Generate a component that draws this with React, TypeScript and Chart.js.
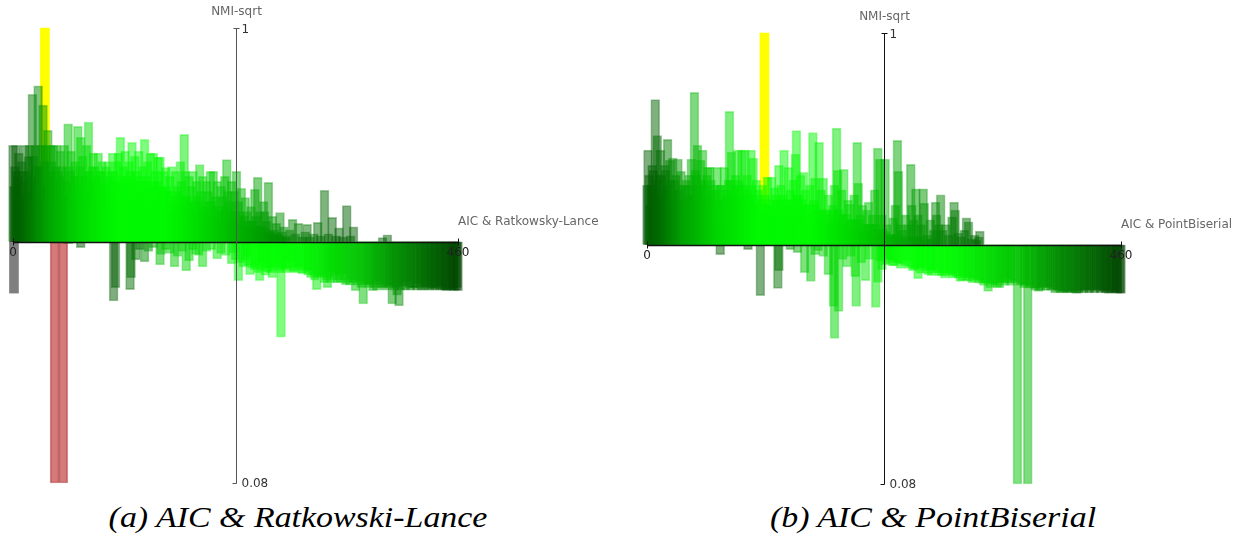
import React, { useEffect, useRef } from "react";
import { Chart, registerables } from "chart.js";

Chart.register(...registerables);

// Rank axis (AIC order) and NMI-sqrt axis extents.
const rankTicks = [0, 460];
const nmiTicks = [1, 0.08];
// The rank axis crosses the NMI-sqrt axis here; the NMI axis sits at this rank.
const axisCrossNmi = 0.568;
const nmiAxisRank = 230;

// (a) AIC & Ratkowsky-Lance: [rank, NMI-sqrt]
const rlAbove: [number, number][] = [
  [0, 0.763], [1, 0.68], [3, 0.763], [4, 0.71], [6, 0.747], [7, 0.649], [9, 0.73], [10, 0.69], [12, 0.763], [13, 0.629],
  [15, 0.71], [17, 0.763], [18, 0.67], [20, 0.866], [21, 0.741], [23, 0.763], [24, 0.69], [26, 0.883], [27, 0.72], [29, 0.763],
  [30, 0.659], [31, 0.844], [34, 0.763], [36, 0.793], [37, 0.7], [39, 0.763], [40, 0.73], [42, 0.763], [43, 0.67], [45, 0.763],
  [47, 0.71], [49, 0.751], [51, 0.69], [53, 0.763], [54, 0.649], [57, 0.806], [58, 0.72], [60, 0.751], [62, 0.68], [64, 0.73],
  [67, 0.801], [68, 0.7], [70, 0.779], [72, 0.741], [74, 0.67], [76, 0.763], [78, 0.81], [79, 0.71], [81, 0.69], [83, 0.747],
  [85, 0.72], [87, 0.659], [88, 0.747], [90, 0.71], [92, 0.73], [94, 0.68], [96, 0.72], [98, 0.73], [99, 0.67], [101, 0.71],
  [103, 0.747], [105, 0.69], [107, 0.73], [109, 0.747], [111, 0.779], [112, 0.68], [114, 0.72], [116, 0.751], [118, 0.7], [120, 0.73],
  [123, 0.769], [124, 0.69], [126, 0.741], [128, 0.71], [130, 0.751], [132, 0.67], [134, 0.72], [136, 0.775], [137, 0.69], [139, 0.73],
  [142, 0.747], [143, 0.659], [145, 0.747], [147, 0.71], [149, 0.69], [150, 0.739], [152, 0.739], [154, 0.68], [156, 0.71], [158, 0.718],
  [160, 0.67], [162, 0.7], [164, 0.72], [166, 0.649], [168, 0.71], [170, 0.68], [173, 0.73], [174, 0.69], [177, 0.785], [178, 0.71],
  [180, 0.659], [182, 0.7], [184, 0.68], [186, 0.71], [188, 0.649], [190, 0.69], [193, 0.724], [194, 0.67], [196, 0.7], [198, 0.639],
  [200, 0.69], [202, 0.67], [204, 0.71], [205, 0.649], [207, 0.71], [209, 0.659], [211, 0.69], [213, 0.629], [215, 0.68], [217, 0.659],
  [219, 0.7], [221, 0.734], [222, 0.67], [224, 0.649], [226, 0.69], [228, 0.619], [229, 0.67], [231, 0.71], [233, 0.649], [234, 0.629],
  [236, 0.676], [238, 0.609], [240, 0.657], [242, 0.629], [244, 0.598], [246, 0.639], [248, 0.609], [250, 0.674], [251, 0.619], [253, 0.698],
  [255, 0.629], [257, 0.598], [259, 0.649], [260, 0.629], [262, 0.609], [264, 0.688], [266, 0.588], [268, 0.619], [270, 0.592], [272, 0.605],
  [274, 0.584], [276, 0.627], [278, 0.588], [280, 0.598], [283, 0.58], [286, 0.592], [289, 0.613], [292, 0.584], [295, 0.605], [299, 0.578],
  [302, 0.588], [304, 0.603], [307, 0.578], [311, 0.584], [315, 0.607], [318, 0.58], [322, 0.672], [326, 0.584], [330, 0.617], [334, 0.58],
  [337, 0.596], [341, 0.578], [345, 0.641], [349, 0.58], [352, 0.598], [382, 0.576], [387, 0.582],
  // lower solutions hidden inside the block
  [2, 0.72], [5, 0.7], [8, 0.66], [11, 0.71], [14, 0.67], [16, 0.74], [19, 0.7], [22, 0.65], [25, 0.72], [28, 0.68],
  [32, 0.73], [35, 0.66], [38, 0.71], [41, 0.69], [44, 0.72], [46, 0.64], [48, 0.7], [50, 0.72], [52, 0.66], [55, 0.69],
  [59, 0.71], [61, 0.65], [63, 0.7], [66, 0.68], [69, 0.72], [71, 0.66], [73, 0.7], [75, 0.67], [77, 0.71], [80, 0.68],
  [82, 0.72], [84, 0.65], [86, 0.7], [89, 0.67], [91, 0.71], [93, 0.66], [95, 0.69], [97, 0.64], [100, 0.7], [102, 0.66],
  [104, 0.71], [106, 0.65], [108, 0.69], [110, 0.67], [113, 0.7], [115, 0.65], [117, 0.69], [119, 0.66], [121, 0.71], [122, 0.64],
  [125, 0.68], [127, 0.66], [129, 0.7], [131, 0.65], [133, 0.69], [135, 0.66], [138, 0.7], [140, 0.64], [141, 0.68], [144, 0.66],
  [146, 0.69], [148, 0.65], [151, 0.68], [153, 0.64], [155, 0.67], [157, 0.65], [159, 0.68], [161, 0.64], [163, 0.67], [165, 0.63],
  [167, 0.66], [169, 0.64], [171, 0.67], [172, 0.63], [175, 0.66], [176, 0.64], [179, 0.66], [181, 0.63], [183, 0.65], [185, 0.62],
  [187, 0.65], [189, 0.63], [191, 0.66], [192, 0.62], [195, 0.65], [197, 0.63], [199, 0.64], [201, 0.62], [203, 0.65], [206, 0.62],
  [208, 0.64], [210, 0.61], [212, 0.64], [214, 0.62], [216, 0.63], [218, 0.61], [220, 0.64], [223, 0.62], [225, 0.63], [227, 0.61],
  [230, 0.63], [232, 0.61], [235, 0.62], [237, 0.6], [239, 0.62], [241, 0.6], [243, 0.61], [245, 0.595], [247, 0.61], [249, 0.59],
  [252, 0.6], [254, 0.59], [256, 0.6], [258, 0.585], [261, 0.595], [263, 0.585], [265, 0.59], [267, 0.58], [269, 0.585], [271, 0.578],
  [273, 0.582], [277, 0.578], [282, 0.576],
];
const rlBelow: [number, number][] = [
  [57, 0.564], [70, 0.556], [104, 0.448], [106, 0.475], [121, 0.471], [122, 0.495], [127, 0.531], [131, 0.552], [136, 0.527], [140, 0.548],
  [145, 0.556], [152, 0.521], [153, 0.542], [158, 0.552], [162, 0.544], [167, 0.517], [170, 0.538], [175, 0.548], [179, 0.509], [182, 0.529],
  [186, 0.552], [189, 0.542], [192, 0.54], [196, 0.517], [200, 0.548], [205, 0.552], [211, 0.533], [215, 0.544], [220, 0.54], [226, 0.523],
  [230, 0.531], [233, 0.489], [238, 0.517], [242, 0.538], [245, 0.501], [250, 0.511], [255, 0.489], [258, 0.527], [263, 0.507], [268, 0.495],
  [272, 0.523], [277, 0.375], [281, 0.513], [286, 0.527], [290, 0.507], [295, 0.517], [299, 0.503], [303, 0.511], [308, 0.495], [314, 0.471],
  [318, 0.497], [325, 0.475], [330, 0.507], [335, 0.485], [340, 0.503], [344, 0.481], [350, 0.491], [354, 0.469], [358, 0.487], [362, 0.442],
  [366, 0.483], [372, 0.469], [377, 0.487], [383, 0.475], [387, 0.479], [392, 0.442], [399, 0.438], [403, 0.477], [408, 0.487], [413, 0.475],
  [419, 0.483], [424, 0.477], [429, 0.479], [434, 0.473], [439, 0.479], [444, 0.471], [448, 0.469], [452, 0.471], [456, 0.469], [460, 0.469],
  // shorter solutions under the tail
  [228, 0.545], [235, 0.525], [240, 0.53], [243, 0.52], [247, 0.515], [252, 0.52], [253, 0.505], [257, 0.51], [260, 0.515], [261, 0.5],
  [265, 0.515], [266, 0.505], [270, 0.51], [274, 0.515], [275, 0.505], [279, 0.51], [283, 0.505], [284, 0.515], [288, 0.51], [292, 0.505],
  [293, 0.515], [297, 0.51], [301, 0.505], [305, 0.5], [306, 0.51], [310, 0.5], [312, 0.49], [316, 0.495], [320, 0.5], [322, 0.485],
  [324, 0.49], [327, 0.495], [328, 0.485], [332, 0.49], [333, 0.5], [337, 0.49], [338, 0.485], [342, 0.49], [346, 0.485], [348, 0.48],
  [352, 0.485], [356, 0.48], [360, 0.475], [364, 0.48], [368, 0.475], [370, 0.48], [374, 0.475], [376, 0.47], [379, 0.48], [381, 0.475],
  [385, 0.47], [389, 0.475], [390, 0.48], [394, 0.47], [396, 0.475], [397, 0.46], [401, 0.47], [405, 0.48], [406, 0.47], [410, 0.475],
  [411, 0.47], [415, 0.475], [417, 0.47], [421, 0.475], [422, 0.47], [426, 0.47], [427, 0.475], [431, 0.47], [432, 0.475], [436, 0.47],
  [437, 0.475], [441, 0.47], [442, 0.475], [446, 0.47], [447, 0.475], [450, 0.47], [454, 0.47], [455, 0.475], [458, 0.47], [459, 0.475],
];
const rlBest: [number, number][] = [[33, 1.0]];
const rlGrey: [number, number][] = [[1, 0.464]];
const rlRed: [number, number][] = [[43, 0.08], [52, 0.08]];

// (b) AIC & PointBiserial: [rank, NMI-sqrt]
const pbAbove: [number, number][] = [
  [0, 0.69], [1, 0.761], [3, 0.649], [5, 0.73], [7, 0.68], [8, 0.864], [10, 0.791], [12, 0.71], [13, 0.761], [15, 0.659],
  [17, 0.73], [19, 0.69], [20, 0.783], [22, 0.741], [24, 0.67], [25, 0.745], [27, 0.7], [29, 0.649], [30, 0.743], [32, 0.68],
  [33, 0.718], [35, 0.629], [37, 0.69], [39, 0.659], [41, 0.71], [43, 0.743], [44, 0.67], [46, 0.879], [47, 0.72], [49, 0.771],
  [51, 0.69], [52, 0.741], [54, 0.761], [56, 0.659], [58, 0.71], [59, 0.726], [61, 0.726], [63, 0.68], [65, 0.639], [66, 0.69],
  [68, 0.726], [70, 0.659], [72, 0.69], [73, 0.619], [75, 0.726], [77, 0.67], [79, 0.7], [80, 0.84], [82, 0.757], [84, 0.68],
  [86, 0.71], [88, 0.761], [90, 0.69], [92, 0.761], [93, 0.659], [95, 0.761], [97, 0.71], [99, 0.67], [101, 0.761], [103, 0.745],
  [104, 0.649], [106, 0.7], [108, 0.68], [110, 0.639], [112, 0.69], [115, 0.67], [117, 0.706], [119, 0.649], [121, 0.706], [123, 0.629],
  [124, 0.684], [126, 0.659], [128, 0.73], [130, 0.69], [133, 0.761], [135, 0.649], [137, 0.726], [139, 0.68], [141, 0.629], [142, 0.7],
  [144, 0.753], [145, 0.801], [147, 0.67], [149, 0.71], [150, 0.649], [152, 0.716], [154, 0.68], [156, 0.629], [158, 0.69], [161, 0.797],
  [162, 0.659], [163, 0.704], [165, 0.639], [167, 0.777], [169, 0.68], [171, 0.704], [172, 0.619], [174, 0.639], [176, 0.67], [178, 0.609],
  [180, 0.649], [182, 0.69], [184, 0.806], [185, 0.72], [187, 0.629], [189, 0.68], [191, 0.722], [193, 0.609], [195, 0.659], [197, 0.651],
  [199, 0.619], [201, 0.67], [204, 0.777], [205, 0.694], [207, 0.629], [209, 0.649], [211, 0.598], [213, 0.639], [215, 0.655], [217, 0.609],
  [219, 0.629], [221, 0.68], [224, 0.765], [226, 0.743], [228, 0.629], [231, 0.743], [233, 0.609], [236, 0.588], [239, 0.623], [241, 0.649],
  [243, 0.781], [244, 0.718], [246, 0.609], [248, 0.598], [251, 0.629], [254, 0.609], [256, 0.732], [257, 0.649], [259, 0.619], [261, 0.682],
  [263, 0.629], [266, 0.609], [268, 0.682], [269, 0.653], [272, 0.588], [275, 0.619], [278, 0.598], [280, 0.655], [281, 0.629], [283, 0.609],
  [285, 0.67], [287, 0.598], [290, 0.609], [293, 0.588], [296, 0.625], [298, 0.655], [299, 0.639], [302, 0.592], [305, 0.584], [308, 0.598],
  [310, 0.623], [312, 0.615], [315, 0.58], [318, 0.588], [320, 0.578], [322, 0.584], [323, 0.596],
  // lower solutions hidden inside the block
  [2, 0.71], [4, 0.69], [6, 0.72], [9, 0.7], [11, 0.67], [14, 0.71], [16, 0.68], [18, 0.72], [21, 0.66], [23, 0.7],
  [26, 0.68], [28, 0.71], [31, 0.66], [34, 0.69], [36, 0.65], [38, 0.7], [40, 0.67], [42, 0.69], [45, 0.66], [48, 0.71],
  [50, 0.67], [53, 0.7], [55, 0.66], [57, 0.69], [60, 0.67], [62, 0.7], [64, 0.65], [67, 0.68], [69, 0.66], [71, 0.69],
  [74, 0.65], [76, 0.68], [78, 0.66], [81, 0.7], [83, 0.67], [85, 0.69], [87, 0.66], [89, 0.7], [91, 0.67], [94, 0.69],
  [96, 0.65], [98, 0.68], [100, 0.66], [102, 0.69], [105, 0.65], [107, 0.67], [109, 0.64], [111, 0.66], [113, 0.63], [116, 0.65],
  [118, 0.63], [120, 0.66], [122, 0.64], [125, 0.67], [127, 0.64], [129, 0.66], [131, 0.63], [132, 0.67], [134, 0.64], [136, 0.66],
  [138, 0.63], [140, 0.66], [143, 0.64], [146, 0.67], [148, 0.63], [151, 0.66], [153, 0.63], [155, 0.65], [157, 0.62], [159, 0.65],
  [160, 0.63], [164, 0.65], [166, 0.62], [168, 0.64], [170, 0.62], [173, 0.64], [175, 0.61], [177, 0.63], [179, 0.61], [181, 0.64],
  [183, 0.62], [186, 0.64], [188, 0.61], [190, 0.63], [192, 0.61], [194, 0.63], [196, 0.6], [198, 0.62], [200, 0.6], [202, 0.62],
  [203, 0.6], [206, 0.62], [208, 0.6], [210, 0.61], [212, 0.595], [214, 0.61], [216, 0.595], [218, 0.61], [220, 0.59], [222, 0.61],
  [225, 0.6], [227, 0.59], [229, 0.6], [230, 0.59], [232, 0.595], [234, 0.585], [237, 0.59], [240, 0.585], [242, 0.59], [245, 0.58],
  [250, 0.585], [253, 0.58], [258, 0.585], [262, 0.58], [265, 0.585], [270, 0.578], [276, 0.58],
];
const pbBelow: [number, number][] = [
  [71, 0.548], [98, 0.558], [110, 0.464], [127, 0.479], [128, 0.515], [139, 0.558], [146, 0.552], [153, 0.511], [159, 0.493], [163, 0.548],
  [166, 0.556], [171, 0.544], [176, 0.507], [181, 0.442], [182, 0.377], [186, 0.432], [190, 0.538], [194, 0.523], [198, 0.544], [202, 0.503],
  [203, 0.442], [208, 0.531], [212, 0.495], [216, 0.538], [222, 0.44], [224, 0.491], [228, 0.517], [231, 0.527], [235, 0.538], [238, 0.525],
  [242, 0.531], [248, 0.529], [252, 0.536], [256, 0.523], [260, 0.517], [263, 0.499], [268, 0.523], [273, 0.507], [278, 0.517], [282, 0.511],
  [286, 0.505], [291, 0.511], [295, 0.507], [300, 0.503], [304, 0.493], [309, 0.501], [314, 0.493], [320, 0.497], [325, 0.489], [331, 0.473],
  [336, 0.487], [340, 0.481], [345, 0.491], [350, 0.499], [355, 0.495], [359.5, 0.08], [364, 0.487], [369.5, 0.08], [375, 0.479], [380, 0.473],
  [385, 0.483], [389, 0.481], [394, 0.477], [398, 0.475], [403, 0.473], [408, 0.471], [413, 0.473], [417, 0.469], [422, 0.475], [427, 0.477],
  [432, 0.475], [438, 0.477], [443, 0.473], [448, 0.469], [453, 0.471], [457, 0.469], [460, 0.469],
  // shorter solutions under the tail
  [226, 0.535], [230, 0.54], [233, 0.53], [237, 0.535], [240, 0.525], [244, 0.53], [246, 0.52], [250, 0.525], [254, 0.52], [258, 0.515],
  [262, 0.52], [265, 0.51], [266, 0.52], [270, 0.515], [271, 0.51], [275, 0.515], [276, 0.505], [280, 0.51], [284, 0.505], [288, 0.51],
  [289, 0.5], [293, 0.505], [297, 0.5], [298, 0.51], [302, 0.5], [306, 0.495], [307, 0.505], [311, 0.495], [312, 0.5], [316, 0.49],
  [318, 0.5], [322, 0.49], [323, 0.495], [327, 0.485], [329, 0.49], [333, 0.48], [334, 0.49], [338, 0.485], [342, 0.48], [343, 0.49],
  [347, 0.485], [348, 0.49], [352, 0.49], [353, 0.485], [357, 0.49], [362, 0.485], [366, 0.48], [367, 0.485], [371, 0.48], [372, 0.485],
  [377, 0.475], [378, 0.48], [382, 0.475], [383, 0.48], [387, 0.475], [391, 0.48], [392, 0.475], [396, 0.47], [400, 0.475], [401, 0.47],
  [405, 0.47], [406, 0.475], [410, 0.47], [411, 0.475], [415, 0.47], [419, 0.47], [420, 0.475], [424, 0.47], [425, 0.475], [429, 0.47],
  [430, 0.475], [434, 0.47], [436, 0.475], [440, 0.47], [441, 0.475], [445, 0.47], [446, 0.475], [450, 0.47], [451, 0.475], [455, 0.47],
  [456, 0.475], [459, 0.47],
];
const pbBest: [number, number][] = [[114, 1.0]];

// Green level along the rank axis for bars above / below the crossing line.
const aboveShade: [number, number][] = [[0, 90], [12, 105], [35, 160], [70, 215], [110, 250], [160, 250], [200, 215], [240, 175], [300, 120], [340, 95], [460, 90]];
const belowShade: [number, number][] = [[0, 100], [105, 92], [128, 115], [155, 200], [220, 235], [250, 255], [300, 250], [365, 190], [400, 140], [460, 70]];

function greenLevel(rank: number, above: boolean): number {
  const stops = above ? aboveShade : belowShade;
  let g = stops[stops.length - 1][1];
  for (let i = 0; i < stops.length - 1; i++) {
    const [r0, g0] = stops[i];
    const [r1, g1] = stops[i + 1];
    if (rank >= r0 && rank <= r1) {
      g = g0 + ((g1 - g0) * (rank - r0)) / (r1 - r0);
      break;
    }
  }
  return Math.round(g);
}

const toPoints = (rows: [number, number][]) => rows.map(([x, y]) => ({ x, y }));

const barCommon = {
  base: axisCrossNmi,
  barThickness: 9,
  grouped: false,
  clip: false as const,
  borderWidth: 0,
};

const FONT = '"DejaVu Sans", Verdana, sans-serif';

const crossAxes = {
  id: "crossAxes",
  afterDatasetsDraw(chart: any, _args: any, opts: any) {
    const { ctx } = chart;
    const xs = chart.scales.x;
    const ys = chart.scales.y;
    const y0 = Math.round(ys.getPixelForValue(axisCrossNmi)) + 0.5;
    const xl = xs.getPixelForValue(rankTicks[0]);
    const xr = xs.getPixelForValue(rankTicks[1]);
    const ax = Math.round(xs.getPixelForValue(nmiAxisRank)) + 0.5;
    const yt = Math.round(ys.getPixelForValue(nmiTicks[0])) + 0.5;
    const yb = Math.round(ys.getPixelForValue(nmiTicks[1])) + 0.5;
    ctx.save();

    // rank axis
    ctx.strokeStyle = "#111";
    ctx.lineWidth = 1.5;
    ctx.beginPath();
    ctx.moveTo(xl, y0);
    ctx.lineTo(xr, y0);
    ctx.stroke();
    ctx.lineWidth = 1;
    ctx.beginPath();
    for (const t of rankTicks) {
      const px = Math.round(xs.getPixelForValue(t)) + 0.5;
      ctx.moveTo(px, y0 - 4);
      ctx.lineTo(px, y0 + 3);
    }
    ctx.stroke();

    // NMI-sqrt axis
    ctx.strokeStyle = opts.nmiAxisColor;
    ctx.beginPath();
    ctx.moveTo(ax, yt);
    ctx.lineTo(ax, yb);
    ctx.moveTo(ax - 3, yt);
    ctx.lineTo(ax + 3, yt);
    ctx.moveTo(ax - 4, yb);
    ctx.lineTo(ax, yb);
    ctx.stroke();

    ctx.font = `12px ${FONT}`;
    ctx.textBaseline = "middle";

    ctx.fillStyle = "#222";
    ctx.textAlign = "center";
    for (const t of rankTicks) {
      ctx.fillText(String(t), xs.getPixelForValue(t), y0 + 10);
    }

    ctx.fillStyle = "#333";
    ctx.textAlign = "left";
    ctx.fillText(String(nmiTicks[0]), ax + 5, yt + 1);
    ctx.fillText(String(nmiTicks[1]), ax + 5, yb);

    ctx.fillStyle = "#666";
    ctx.textAlign = "center";
    ctx.fillText("NMI-sqrt", ax, yt - 17);
    ctx.textAlign = "left";
    ctx.fillText(opts.rankTitle, xr, y0 - 21);

    ctx.restore();
  },
};

type PanelSpec = {
  above: [number, number][];
  below: [number, number][];
  best: [number, number][];
  grey: [number, number][];
  red: [number, number][];
  rankTitle: string;
  nmiAxisColor: string;
  left: number;
  width: number;
  padding: { left: number; right: number; top: number; bottom: number };
};

const CANVAS_H = 495;

function Panel({ spec }: { spec: PanelSpec }) {
  const ref = useRef<HTMLCanvasElement>(null);
  useEffect(() => {
    const fill = (above: boolean) => (c: any) =>
      c.raw ? `rgba(0,${greenLevel(c.raw.x, above)},0,0.5)` : "transparent";
    const edge = (above: boolean) => (c: any) =>
      c.raw ? `rgba(0,${greenLevel(c.raw.x, above)},0,0.36)` : "transparent";
    const greens = { ...barCommon, borderWidth: 1, borderSkipped: "start" };
    const chart = new Chart(ref.current as HTMLCanvasElement, {
      type: "bar",
      data: {
        datasets: [
          { data: toPoints(spec.red), backgroundColor: "rgba(175,0,0,0.52)", borderColor: "rgba(150,20,20,0.45)", ...barCommon, borderWidth: 1 },
          { data: toPoints(spec.grey), backgroundColor: "rgba(0,0,0,0.5)", ...barCommon },
          { data: toPoints(spec.above), backgroundColor: fill(true), borderColor: edge(true), ...greens },
          { data: toPoints(spec.below), backgroundColor: fill(false), borderColor: edge(false), ...greens },
          { data: toPoints(spec.best), backgroundColor: "#ffff00", ...barCommon },
        ] as any,
      },
      options: {
        animation: false,
        responsive: false,
        maintainAspectRatio: false,
        devicePixelRatio: 1,
        events: [],
        layout: { padding: spec.padding },
        scales: {
          x: { type: "linear", min: rankTicks[0], max: rankTicks[1], offset: false, bounds: "data", display: false },
          y: { type: "linear", min: nmiTicks[1], max: nmiTicks[0], beginAtZero: false, bounds: "data", display: false },
        },
        plugins: {
          legend: { display: false },
          tooltip: { enabled: false },
          crossAxes: { rankTitle: spec.rankTitle, nmiAxisColor: spec.nmiAxisColor },
        } as any,
      },
      plugins: [crossAxes],
    } as any);
    return () => chart.destroy();
  }, [spec]);
  return (
    <canvas
      ref={ref}
      width={spec.width}
      height={CANVAS_H}
      style={{ position: "absolute", left: spec.left, top: 0, width: spec.width, height: CANVAS_H }}
    />
  );
}

const panelA: PanelSpec = {
  above: rlAbove,
  below: rlBelow,
  best: rlBest,
  grey: rlGrey,
  red: rlRed,
  rankTitle: "AIC & Ratkowsky-Lance",
  nmiAxisColor: "#555",
  left: 0,
  width: 620,
  padding: { left: 13, right: 162, top: 28, bottom: 12 },
};

const panelB: PanelSpec = {
  above: pbAbove,
  below: pbBelow,
  best: pbBest,
  grey: [],
  red: [],
  rankTitle: "AIC & PointBiserial",
  nmiAxisColor: "#111",
  left: 620,
  width: 623,
  padding: { left: 27, right: 122, top: 33, bottom: 11 },
};

const captionStyle = (center: number): React.CSSProperties => ({
  position: "absolute",
  left: center - 300,
  width: 600,
  top: 499,
  lineHeight: "36px",
  textAlign: "center",
  fontFamily: '"Liberation Serif", "Times New Roman", serif',
  fontStyle: "italic",
  fontSize: 30,
  color: "#000",
  whiteSpace: "nowrap",
  transform: "scaleX(1.13)",
  transformOrigin: "50% 50%",
});

export default function App() {
  return (
    <div style={{ position: "absolute", left: 0, top: 0, width: 1243, height: 538, background: "#fff", overflow: "hidden" }}>
      <Panel spec={panelA} />
      <Panel spec={panelB} />
      <div style={captionStyle(298)}>(a) AIC &amp; Ratkowski-Lance</div>
      <div style={captionStyle(933)}>(b) AIC &amp; PointBiserial</div>
    </div>
  );
}
